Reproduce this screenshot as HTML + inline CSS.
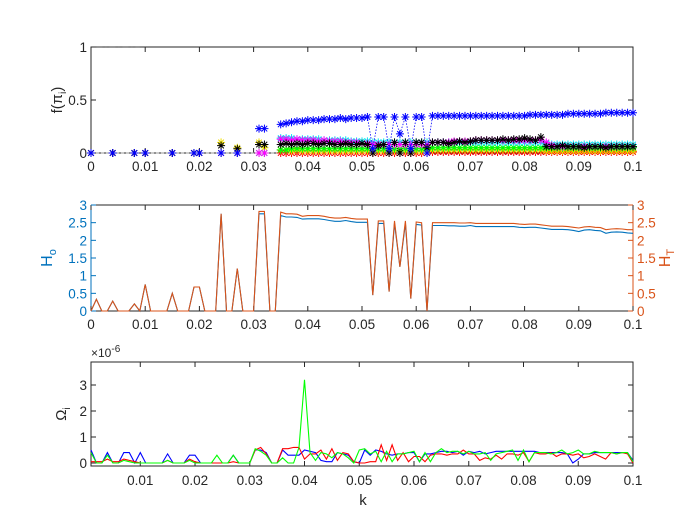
<!DOCTYPE html>
<html><head><meta charset="utf-8"><style>
html,body{margin:0;padding:0;background:#fff}
svg{display:block;font-family:"Liberation Sans",sans-serif}
</style></head><body>
<svg id="chart" width="700" height="525" viewBox="0 0 700 525" xmlns="http://www.w3.org/2000/svg"></svg>
<script>
const n=null;
const kTop=[];for(let i=0;i<=100;i++)kTop.push(i/1000);
const earlyZero=[0,n,n,n,0,n,n,n,0,n,0,n,n,n,n,0,n,n,n,0,0,n,n,n,0,n,n,0,n,n,n,0,0,n,n];
const blueF=[0,n,n,n,0,n,n,n,0,n,0,n,n,n,n,0,n,n,n,0,0,n,n,n,0,n,n,0,n,n,n,0.23,0.23,n,n,
0.27,0.28,0.29,0.30,0.30,0.31,0.31,0.31,0.32,0.32,0.32,0.33,0.32,0.33,0.33,0.33,0.34,
0.04,0.34,0.34,0.04,0.34,0.18,0.34,0.04,0.34,0.34,0.0,
0.35,0.35,0.35,0.35,0.35,0.35,0.35,0.35,0.35,0.35,0.35,0.35,0.35,0.35,0.35,0.35,0.35,0.35,0.36,0.36,0.36,0.36,0.36,0.36,0.36,0.37,0.37,0.37,0.37,0.37,0.37,0.37,0.38,0.38,0.38,0.38,0.38,0.38];
const blackF=[0,n,n,n,0,n,n,n,0,n,0,n,n,n,n,0,n,n,n,0,0,n,n,n,0.07,n,n,0.04,n,n,n,0.08,0.08,n,n,
0.08,0.09,0.08,0.09,0.08,0.09,0.09,0.08,0.09,0.09,0.08,0.08,0.09,0.08,0.08,0.09,0.08,
0.0,0.07,0.08,0.0,0.1,0.0,0.1,0.0,0.1,0.1,0.05,
0.1,0.1,0.1,0.09,0.1,0.11,0.1,0.11,0.12,0.12,0.12,0.12,0.12,0.13,0.12,0.13,0.13,0.14,0.13,0.12,0.15,0.06,0.06,0.06,0.07,0.06,0.06,0.06,0.05,0.06,0.06,0.06,0.05,0.06,0.06,0.06,0.06,0.06];
const magentaF=earlyZero.concat([0.13,0.13,0.12,0.13,0.12,0.12,0.12,0.11,0.12,0.11,0.11,0.11,0.1,0.1,0.1,0.09,0.09,
0.08,0.08,0.08,0.08,0.08,0.08,0.08,0.08,0.08,0.08,0.08,
0.1,0.1,0.1,0.1,0.11,0.11,0.11,0.11,0.12,0.12,0.12,0.12,0.12,0.12,0.12,0.12,0.12,0.12,0.12,0.12,0.12,0.1,0.07,0.06,0.06,0.06,0.06,0.06,0.06,0.06,0.06,0.06,0.06,0.06,0.06,0.06,0.06,0.06]);
const cyanF=earlyZero.concat([0.14,0.14,0.14,0.13,0.13,0.13,0.13,0.13,0.12,0.12,0.12,0.12,0.12,0.11,0.11,0.11,0.11,
0.1,0.1,0.1,0.1,0.1,0.1,0.1,0.1,0.1,0.1,0.1,
0.1,0.1,0.1,0.1,0.1,0.1,0.1,0.1,0.1,0.1,0.1,0.1,0.1,0.1,0.1,0.1,0.1,0.1,0.1,0.1,0.1,0.09,0.08,0.08,0.08,0.08,0.08,0.08,0.08,0.08,0.08,0.08,0.08,0.08,0.08,0.08,0.08,0.08]);
const greenF=earlyZero.concat([0.03,0.03,0.04,0.04,0.04,0.04,0.04,0.04,0.04,0.04,0.04,0.04,0.04,0.04,0.04,0.04,0.04,
0.04,0.04,0.04,0.04,0.04,0.04,0.04,0.04,0.04,0.04,0.04,
0.05,0.05,0.05,0.05,0.05,0.05,0.05,0.05,0.05,0.05,0.05,0.05,0.05,0.05,0.05,0.05,0.05,0.05,0.05,0.05,0.05,0.05,0.05,0.05,0.05,0.05,0.05,0.05,0.05,0.05,0.05,0.05,0.05,0.05,0.05,0.05,0.05,0.05]);
const yellowF=[0,n,n,n,0,n,n,n,0,n,0,n,n,n,n,0,n,n,n,0,0,n,n,n,0.1,n,n,0.05,n,n,n,0.1,0.05,n,n,
0.03,0.03,0.02,0.03,0.02,0.02,0.02,0.02,0.02,0.02,0.02,0.02,0.02,0.02,0.02,0.02,0.02,
0.02,0.02,0.02,0.02,0.02,0.02,0.02,0.02,0.02,0.02,0.02,
0.03,0.03,0.03,0.03,0.03,0.03,0.03,0.03,0.03,0.03,0.03,0.03,0.03,0.03,0.03,0.03,0.03,0.03,0.03,0.03,0.03,0.02,0.02,0.02,0.02,0.02,0.02,0.02,0.02,0.02,0.02,0.02,0.02,0.02,0.02,0.02,0.02,0.02];
const redF=earlyZero.concat([0.0,0.0,0.0,0.0,0.0,0.0,0.0,0.0,0.0,0.0,0.0,0.0,0.0,0.0,0.0,0.0,0.0,
0.0,0.0,0.0,0.0,0.0,0.0,0.0,0.0,0.0,0.0,0.0,
0.01,0.01,0.01,0.01,0.01,0.01,0.01,0.01,0.01,0.01,0.01,0.01,0.01,0.01,0.01,0.01,0.01,0.01,0.01,0.01,0.01,0.01,0.01,0.01,0.01,0.01,0.01,0.01,0.01,0.01,0.01,0.01,0.01,0.01,0.01,0.01,0.01,0.01]);
const topTicksX=[0,0.01,0.02,0.03,0.04,0.05,0.06,0.07,0.08,0.09,0.1];
const topTickLabelsX=["0","0.01","0.02","0.03","0.04","0.05","0.06","0.07","0.08","0.09","0.1"];
const topTicksY=[0,0.5,1];
const hT=[0,0.33,0,0,0.28,0,0,0,0.2,0,0.75,0,0,0,0,0.5,0,0,0,0.68,0.68,0,0,0,2.75,0,0,1.2,0,0,0,2.82,2.82,0,0,
2.8,2.75,2.75,2.74,2.68,2.7,2.7,2.7,2.68,2.65,2.63,2.63,2.65,2.62,2.6,2.6,2.6,
0.45,2.55,2.55,0.55,2.55,1.25,2.55,0.35,2.52,2.5,0,
2.5,2.5,2.5,2.5,2.5,2.49,2.49,2.5,2.48,2.48,2.48,2.48,2.48,2.48,2.48,2.48,2.46,2.45,2.46,2.46,2.44,2.42,2.4,2.4,2.4,2.39,2.37,2.35,2.38,2.39,2.37,2.36,2.3,2.32,2.33,2.32,2.3,2.3];
const hO=[0,0.33,0,0,0.28,0,0,0,0.2,0,0.75,0,0,0,0,0.5,0,0,0,0.68,0.68,0,0,0,2.75,0,0,1.2,0,0,0,2.75,2.75,0,0,
2.7,2.66,2.66,2.65,2.6,2.61,2.61,2.61,2.59,2.56,2.54,2.54,2.56,2.53,2.51,2.51,2.51,
0.45,2.48,2.48,0.55,2.48,1.25,2.48,0.35,2.45,2.43,0,
2.42,2.42,2.42,2.41,2.41,2.4,2.4,2.42,2.39,2.39,2.39,2.39,2.39,2.39,2.39,2.39,2.37,2.36,2.37,2.37,2.35,2.33,2.31,2.31,2.31,2.3,2.28,2.25,2.29,2.3,2.28,2.27,2.2,2.23,2.24,2.23,2.21,2.2];
const midTicksY=[0,0.5,1,1.5,2,2.5,3];
const midTickLabelsY=["0","0.5","1","1.5","2","2.5","3"];
const kBot=[];for(let i=1;i<=100;i++)kBot.push(i/1000);
const omegaBlue=[0.5,0,0,0.4,0,0,0.4,0.4,0,0.4,0,0,0,0,0.35,0,0,0,0.3,0.3,0,0,0,0,0,0,0.3,0,0,0,0.5,0.5,0.4,0,0,0.5,0.3,0.3,0.3,0.5,0.45,0.4,0.1,0.05,0.05,0.4,0.35,0.3,0.05,0.0,0.5,0.3,0.5,0.45,0.35,0.3,0.35,0.35,0.4,0.4,0.05,0.35,0.35,0.4,0.45,0.45,0.4,0.45,0.3,0.45,0.4,0.45,0.35,0.4,0.45,0.45,0.45,0.45,0.45,0.45,0.45,0.45,0.4,0.4,0.4,0.4,0.4,0.35,0.0,0.15,0.35,0.35,0.4,0.4,0.4,0.4,0.4,0.4,0.4,0.1];
const omegaRed=[0.05,0.05,0.05,0.15,0.05,0.05,0.15,0.1,0.05,0,0,0,0,0,0.1,0,0,0,0.15,0.05,0,0,0,0,0,0,0.05,0,0,0,0.5,0.6,0.35,0,0,0.55,0.55,0.6,0.6,0.15,0.35,0.35,0.5,0.15,0.55,0.1,0.4,0.35,0.05,0,0,0.05,0.05,0.7,0.1,0.7,0.1,0.4,0.05,0.25,0.25,0.05,0.3,0.35,0.35,0.3,0.35,0.35,0.5,0.35,0.35,0.1,0.2,0.15,0.3,0.15,0.35,0.35,0.3,0.4,0.05,0.4,0.35,0.35,0.4,0.25,0.35,0.35,0.3,0.35,0.2,0.25,0.35,0.25,0.15,0.4,0.35,0.4,0.35,0.0];
const omegaGreen=[0.4,0,0,0.3,0,0,0.1,0.05,0,0,0,0,0,0,0.1,0,0,0,0.1,0,0,0,0,0.3,0,0,0.3,0,0,0,0.55,0.45,0.3,0,0,0.2,0,0,0.6,3.2,0.4,0.1,0.4,0.35,0.2,0.4,0.35,0.2,0,0.5,0.55,0.35,0.45,0.05,0.45,0.05,0.35,0.35,0.4,0.45,0.05,0.4,0.05,0.4,0.55,0.4,0.45,0.45,0.35,0.45,0.35,0.35,0.4,0.1,0.35,0.4,0.45,0.5,0.1,0.5,0.05,0.4,0.4,0.4,0.35,0.4,0.5,0.35,0.4,0.5,0.35,0.35,0.45,0.4,0.4,0.4,0.35,0.4,0.4,0.05];
const botTicksX=[0.01,0.02,0.03,0.04,0.05,0.06,0.07,0.08,0.09,0.1];
const botTickLabelsX=["0.01","0.02","0.03","0.04","0.05","0.06","0.07","0.08","0.09","0.1"];
const botTicksY=[0,1,2,3];

const NS="http://www.w3.org/2000/svg";
const svg=document.getElementById('chart');
function el(tag,attrs,parent,txt){const e=document.createElementNS(NS,tag);for(const k in attrs)e.setAttribute(k,attrs[k]);if(txt!==undefined)e.textContent=txt;(parent||svg).appendChild(e);return e;}
const X0=91,X1=633;
function lin(d0,d1,r0,r1){return v=>r0+(v-d0)*(r1-r0)/(d1-d0);}
const tc="#262626";

function axesBox(g,top,bot){el('rect',{x:X0,y:top,width:X1-X0,height:bot-top,fill:'none',stroke:tc,'stroke-width':1},g);}
function pathFrom(xs,ys,xf,yf){let d='',pen=false;for(let i=0;i<xs.length;i++){if(ys[i]===null||ys[i]===undefined){pen=false;continue;}d+=(pen?'L':'M')+xf(xs[i]).toFixed(1)+' '+yf(ys[i]).toFixed(1);pen=true;}return d;}

// ---- TOP ----
const gTop=el('g',{});
const xT=lin(0,0.1,X0,X1), yT=lin(0,1,153,47);
axesBox(gTop,47,153);
topTicksX.forEach((t,i)=>{const x=xT(t);el('line',{x1:x,y1:153,x2:x,y2:148,stroke:tc},gTop);el('line',{x1:x,y1:47,x2:x,y2:52,stroke:tc},gTop);
const l=el('text',{x:x,y:171,'text-anchor':'middle','font-size':13.5,fill:tc},gTop,topTickLabelsX[i]);});
topTicksY.forEach(t=>{const y=yT(t);el('line',{x1:X0,y1:y,x2:X0+5,y2:y,stroke:tc},gTop);el('line',{x1:X1,y1:y,x2:X1-5,y2:y,stroke:tc},gTop);
const l=el('text',{x:X0-4,y:y+5,'text-anchor':'end','font-size':13.5,fill:tc},gTop,String(t));});
const yl=el('text',{transform:'translate(62,100) rotate(-90)','text-anchor':'middle','font-size':15,fill:tc},gTop);

yl.innerHTML='f(π<tspan font-size="10" dy="4">i</tspan><tspan dy="-4">)</tspan>';
el('line',{x1:xT(0),y1:yT(0),x2:xT(0.035),y2:yT(0),stroke:'#999','stroke-dasharray':'3,2'},gTop);
el('line',{x1:xT(0.001),y1:yT(1),x2:xT(0.009),y2:yT(1),stroke:'#333','stroke-dasharray':'6,3,1,3','stroke-width':1},gTop);
const topSeries=[['red',redF,'#ff0000'],['yellow',yellowF,'#f0e000'],['green',greenF,'#00ff00'],['cyan',cyanF,'#00e8f0'],['magenta',magentaF,'#ff00ff'],['black',blackF,'#000000'],['blue',blueF,'#0000ff']];
topSeries.forEach(([nm,arr,col])=>{
 const g=el('g',{},gTop);
 el('path',{d:pathFrom(kTop,arr,xT,yT),fill:'none',stroke:col,'stroke-width':0.8,'stroke-dasharray':'1.5,1.5'},g);
 arr.forEach((v,i)=>{if(v===null)return;const cx=xT(kTop[i]),cy=yT(v),r=4;
  const m=el('path',{d:`M${cx-r} ${cy}H${cx+r}M${cx} ${cy-r}V${cy+r}M${cx-r*0.7} ${cy-r*0.7}L${cx+r*0.7} ${cy+r*0.7}M${cx-r*0.7} ${cy+r*0.7}L${cx+r*0.7} ${cy-r*0.7}`,stroke:col,'stroke-width':1},g);
  });
});

// ---- MIDDLE ----
const gMid=el('g',{});
const yM=lin(0,3,311,205);
const cB='#0072bd',cO='#d95319';
el('line',{x1:X0,y1:205,x2:X1,y2:205,stroke:tc},gMid);
el('line',{x1:X0,y1:311,x2:X1,y2:311,stroke:tc},gMid);
el('line',{x1:X0,y1:205,x2:X0,y2:311,stroke:cB},gMid);
el('line',{x1:X1,y1:205,x2:X1,y2:311,stroke:cO},gMid);
topTicksX.forEach((t,i)=>{const x=xT(t);el('line',{x1:x,y1:311,x2:x,y2:306,stroke:tc},gMid);el('line',{x1:x,y1:205,x2:x,y2:210,stroke:tc},gMid);
const l=el('text',{x:x,y:329,'text-anchor':'middle','font-size':13.5,fill:tc},gMid,topTickLabelsX[i]);});
midTicksY.forEach((t,i)=>{const y=yM(t);el('line',{x1:X0,y1:y,x2:X0+5,y2:y,stroke:cB},gMid);el('line',{x1:X1,y1:y,x2:X1-5,y2:y,stroke:cO},gMid);
const l=el('text',{x:X0-4,y:y+5,'text-anchor':'end','font-size':13.5,fill:cB},gMid,midTickLabelsY[i]);
const r=el('text',{x:X1+4,y:y+5,'text-anchor':'start','font-size':13.5,fill:cO},gMid,midTickLabelsY[i]);});
const hl=el('text',{transform:'translate(52,258) rotate(-90)','text-anchor':'middle','font-size':16,fill:cB},gMid);

hl.innerHTML='H<tspan font-size="11" dy="4">o</tspan>';
const hr=el('text',{transform:'translate(670,258) rotate(-90)','text-anchor':'middle','font-size':16,fill:cO},gMid);

hr.innerHTML='H<tspan font-size="11" dy="4">T</tspan>';
const pO=el('path',{d:pathFrom(kTop,hO,xT,yM),fill:'none',stroke:cB,'stroke-width':1.1},gMid);

const pT=el('path',{d:pathFrom(kTop,hT,xT,yM),fill:'none',stroke:cO,'stroke-width':1.1},gMid);


// ---- BOTTOM ----
const gBot=el('g',{});
const xB=lin(0.001,0.1,X0,X1), yB=lin(0,3,463,385);
axesBox(gBot,362,466);
botTicksX.forEach((t,i)=>{const x=xB(t);el('line',{x1:x,y1:466,x2:x,y2:461,stroke:tc},gBot);el('line',{x1:x,y1:362,x2:x,y2:367,stroke:tc},gBot);
const l=el('text',{x:x,y:485,'text-anchor':'middle','font-size':13.5,fill:tc},gBot,botTickLabelsX[i]);});
botTicksY.forEach(t=>{const y=yB(t);el('line',{x1:X0,y1:y,x2:X0+5,y2:y,stroke:tc},gBot);el('line',{x1:X1,y1:y,x2:X1-5,y2:y,stroke:tc},gBot);
const l=el('text',{x:X0-4,y:y+5,'text-anchor':'end','font-size':13.5,fill:tc},gBot,String(t));});
const ex=el('text',{x:91,y:357,'font-size':12,fill:tc},gBot);

ex.innerHTML='×10<tspan font-size="10" dy="-5">-6</tspan>';
const ol=el('text',{transform:'translate(66,414) rotate(-90)','text-anchor':'middle','font-size':15,fill:tc},gBot);

ol.innerHTML='Ω<tspan font-size="10" dy="4">i</tspan>';
const kl=el('text',{x:363,y:505,'text-anchor':'middle','font-size':15,fill:tc},gBot,'k');

[['blue',omegaBlue,'#0000ff'],['red',omegaRed,'#ff0000'],['green',omegaGreen,'#00ff00']].forEach(([nm,arr,col])=>{
 const p=el('path',{d:pathFrom(kBot,arr,xB,yB),fill:'none',stroke:col,'stroke-width':1.1},gBot);
 
});
</script>
</body></html>
